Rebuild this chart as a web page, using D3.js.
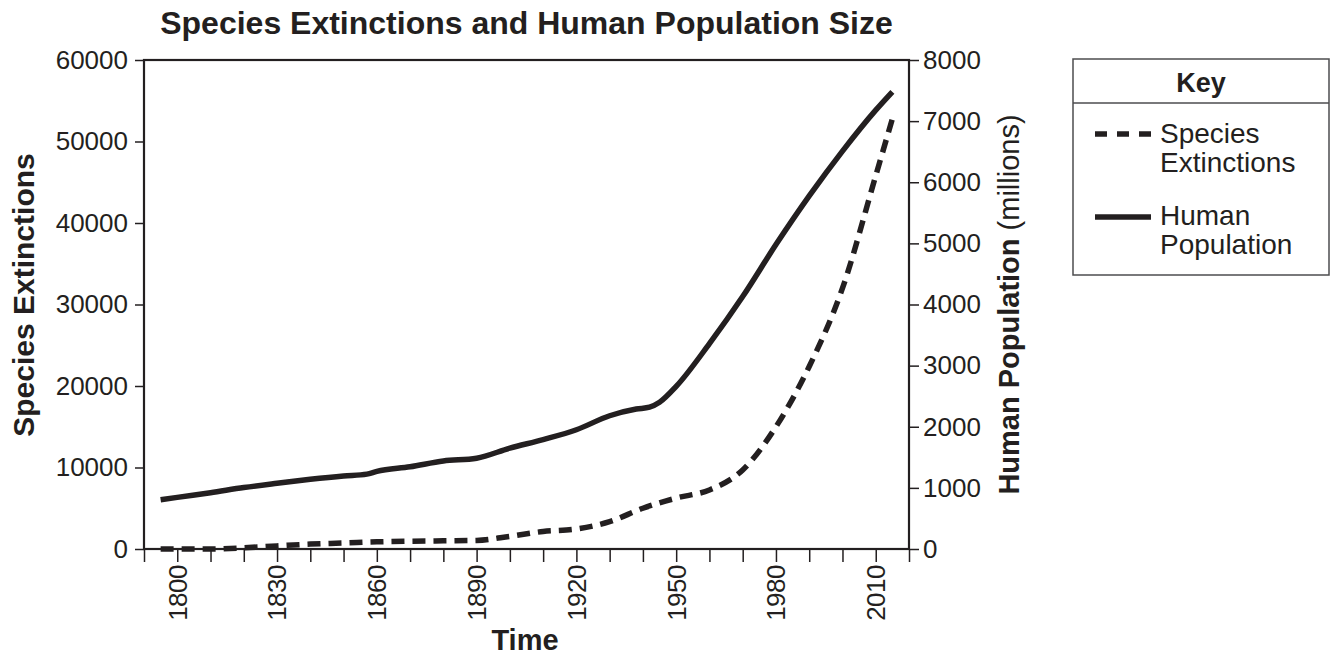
<!DOCTYPE html>
<html>
<head>
<meta charset="utf-8">
<script src="https://cdn.jsdelivr.net/npm/d3@7"></script>
<style>
    body { margin: 0; background: #fff; }
    text { font-family: "Liberation Sans", Arial, Helvetica, sans-serif; fill: #231f20; }
</style>
</head>
<body>
<svg id="canvas" width="1331" height="656"></svg>
<script>
//Human population in millions (solid line, right axis)
const popYears = [1795, 1800, 1810, 1820, 1830, 1840, 1850, 1857, 1860, 1870, 1880, 1890, 1900, 1910, 1920, 1930, 1938, 1942, 1945, 1950, 1960, 1970, 1980, 1990, 2000, 2010, 2015];
const popValues = [805, 845, 920, 1005, 1075, 1140, 1195, 1225, 1270, 1345, 1440, 1486, 1650, 1790, 1951, 2180, 2290, 2320, 2400, 2660, 3360, 4130, 4980, 5776, 6510, 7180, 7480];

//Species extinctions (dashed line, left axis)
const extYears = [1795, 1810, 1820, 1830, 1840, 1850, 1860, 1870, 1880, 1890, 1900, 1910, 1920, 1930, 1940, 1950, 1960, 1970, 1980, 1990, 2000, 2010, 2015];
const extValues = [0, 0, 150, 380, 600, 730, 880, 960, 1000, 1050, 1550, 2150, 2450, 3360, 5000, 6250, 7250, 9700, 15000, 22400, 32000, 45800, 52800];

//Tick values
const xTicks = d3.range(1790, 2021, 10);
const xLabels = [1800, 1830, 1860, 1890, 1920, 1950, 1980, 2010];
const leftTicks = [0, 10000, 20000, 30000, 40000, 50000, 60000];
const rightTicks = [0, 1000, 2000, 3000, 4000, 5000, 6000, 7000, 8000];

const ink = "#231f20";
const canvas = d3.select("#canvas");

//Plot area
const plot = { left: 144, right: 909, top: 60, bottom: 549 };

const x = d3.scaleLinear().domain([1790, 2020]).range([plot.left, plot.right]);
const yLeft = d3.scaleLinear().domain([0, 60000]).range([plot.bottom, plot.top]);
const yRight = d3.scaleLinear().domain([0, 8000]).range([plot.bottom, plot.top]);

const drawAxes = () => {
    //Bottom axis with a tick every decade, labels every 30 years
    const xAxis = canvas.append("g")
        .attr("transform", `translate(0,${plot.bottom})`)
        .call(d3.axisBottom(x).tickValues(xTicks).tickSize(13).tickFormat(""));
    xAxis.select(".domain").remove();
    xAxis.selectAll(".tick line").attr("stroke", ink).attr("stroke-width", 1.5);

    canvas.selectAll(".year-label")
        .data(xLabels)
        .enter()
        .append("text")
        .attr("class", "year-label")
        .attr("transform", (d) => `translate(${x(d)},${plot.bottom + 16}) rotate(-90)`)
        .attr("text-anchor", "end")
        .attr("dy", "0.36em")
        .style("font-size", "26px")
        .style("letter-spacing", "-0.5px")
        .text((d) => d);

    //Left axis
    const leftAxis = canvas.append("g")
        .attr("transform", `translate(${plot.left},0)`)
        .call(d3.axisLeft(yLeft).tickValues(leftTicks).tickSize(9).tickPadding(7).tickFormat(d3.format("d")));
    leftAxis.select(".domain").remove();
    leftAxis.selectAll(".tick line").attr("stroke", ink).attr("stroke-width", 1.5);
    leftAxis.selectAll(".tick text").style("font-size", "26px").attr("fill", ink).style("font-family", null);

    //Right axis
    const rightAxis = canvas.append("g")
        .attr("transform", `translate(${plot.right},0)`)
        .call(d3.axisRight(yRight).tickValues(rightTicks).tickSize(10).tickPadding(4).tickFormat(d3.format("d")));
    rightAxis.select(".domain").remove();
    rightAxis.selectAll(".tick line").attr("stroke", ink).attr("stroke-width", 1.5);
    rightAxis.selectAll(".tick text").style("font-size", "26px").attr("fill", ink).style("font-family", null);

    //Frame round the plot
    canvas.append("rect")
        .attr("x", plot.left)
        .attr("y", plot.top)
        .attr("width", plot.right - plot.left)
        .attr("height", plot.bottom - plot.top)
        .attr("fill", "none")
        .attr("stroke", ink)
        .attr("stroke-width", 2.2);
};

const drawLines = () => {
    const popLine = d3.line()
        .x((d, i) => x(popYears[i]))
        .y((d) => yRight(d))
        .curve(d3.curveMonotoneX);

    const extLine = d3.line()
        .x((d, i) => x(extYears[i]))
        .y((d) => yLeft(d))
        .curve(d3.curveMonotoneX);

    canvas.append("path")
        .attr("d", extLine(extValues))
        .attr("fill", "none")
        .attr("stroke", ink)
        .attr("stroke-width", 5.5)
        .attr("stroke-dasharray", "13,8");

    canvas.append("path")
        .attr("d", popLine(popValues))
        .attr("fill", "none")
        .attr("stroke", ink)
        .attr("stroke-width", 5.5)
        .attr("stroke-linejoin", "round");
};

const drawTitles = () => {
    canvas.append("text")
        .attr("x", (plot.left + plot.right) / 2)
        .attr("y", 34)
        .attr("text-anchor", "middle")
        .style("font-size", "32px")
        .style("font-weight", "bold")
        .text("Species Extinctions and Human Population Size");

    canvas.append("text")
        .attr("x", 525)
        .attr("y", 650)
        .attr("text-anchor", "middle")
        .style("font-size", "29px")
        .style("font-weight", "bold")
        .text("Time");

    canvas.append("text")
        .attr("transform", "translate(34,295) rotate(-90)")
        .attr("text-anchor", "middle")
        .style("font-size", "30px")
        .style("font-weight", "bold")
        .text("Species Extinctions");

    const right = canvas.append("text")
        .attr("transform", `translate(1019,${(plot.top + plot.bottom) / 2}) rotate(-90)`)
        .attr("text-anchor", "middle")
        .style("font-size", "29px");
    right.append("tspan").style("font-weight", "bold").text("Human Population ");
    right.append("tspan").text("(millions)");
};

//Creating the key box
const createLegend = () => {
    const box = { x: 1073, y: 59, w: 256, h: 216, header: 103 };
    const legend = canvas.append("g").attr("id", "legend");

    legend.append("rect")
        .attr("x", box.x)
        .attr("y", box.y)
        .attr("width", box.w)
        .attr("height", box.h)
        .attr("fill", "none")
        .attr("stroke", "#4d4d4f")
        .attr("stroke-width", 1.5);

    legend.append("line")
        .attr("x1", box.x)
        .attr("x2", box.x + box.w)
        .attr("y1", box.header)
        .attr("y2", box.header)
        .attr("stroke", "#4d4d4f")
        .attr("stroke-width", 1.5);

    legend.append("text")
        .attr("x", box.x + box.w / 2)
        .attr("y", 92)
        .attr("text-anchor", "middle")
        .style("font-size", "27px")
        .style("font-weight", "bold")
        .text("Key");

    const items = [
        { lines: ["Species", "Extinctions"], dash: "12,10", lineY: 134, textY: 143 },
        { lines: ["Human", "Population"], dash: null, lineY: 217, textY: 225 }
    ];

    items.forEach((item) => {
        legend.append("line")
            .attr("x1", 1095)
            .attr("x2", 1151)
            .attr("y1", item.lineY)
            .attr("y2", item.lineY)
            .attr("stroke", ink)
            .attr("stroke-width", 5.5)
            .attr("stroke-dasharray", item.dash);

        const label = legend.append("text")
            .attr("x", 1160)
            .attr("y", item.textY)
            .style("font-size", "28px");
        item.lines.forEach((t, i) => {
            label.append("tspan")
                .attr("x", 1160)
                .attr("dy", i === 0 ? 0 : 29)
                .text(t);
        });
    });
};

drawLines();
drawAxes();
drawTitles();
createLegend();
</script>
</body>
</html>
